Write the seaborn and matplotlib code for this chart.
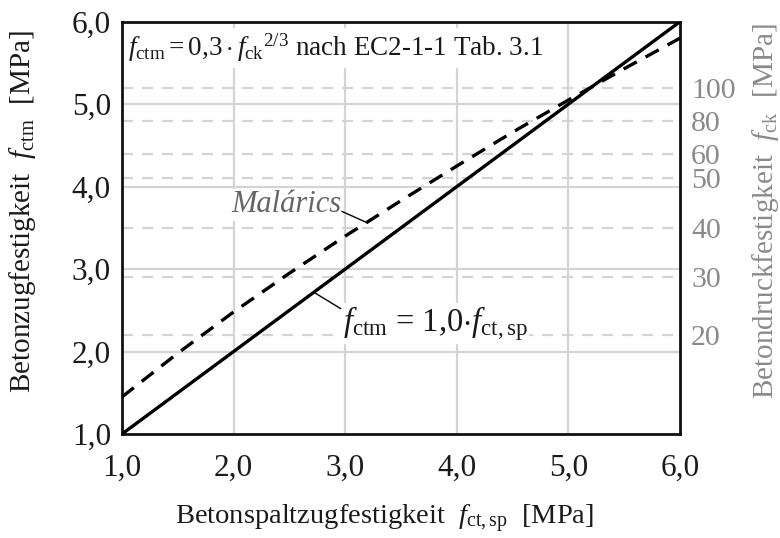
import matplotlib
matplotlib.use("Agg")
import matplotlib.pyplot as plt
import seaborn as sns
import pandas as pd

# ---- data ----
x_sp = [1.0, 6.0]
y_lin = [1.0, 6.0]                      # f_ctm = 1,0 * f_ct,sp
x_mal = [1.0, 1.5, 2.0, 2.5, 3.0, 3.5, 4.0, 4.5, 5.0, 5.5, 6.0]
y_mal = [1.45, 1.98, 2.48, 2.95, 3.40, 3.83, 4.25, 4.66, 5.05, 5.43, 5.80]  # Malárics
fck_labels = ["20", "30", "40", "50", "60", "80", "100"]
fck_fctm = [2.2, 2.9, 3.5, 4.1, 4.4, 4.8, 5.2]
ticks = [1, 2, 3, 4, 5, 6]
tick_labels = ["1,0", "2,0", "3,0", "4,0", "5,0", "6,0"]

sns.set_style("white")
plt.rcParams["font.family"] = ["Liberation Serif", "DejaVu Serif"]
plt.rcParams["mathtext.fontset"] = "custom"
plt.rcParams["mathtext.rm"] = "Liberation Serif"
plt.rcParams["mathtext.it"] = "Liberation Serif:italic"
plt.rcParams["mathtext.bf"] = "Liberation Serif:bold"

fig = plt.figure(figsize=(7.8, 5.38), dpi=100)
ax = fig.add_axes([122/780, 1-434/538, (680-122)/780, (434-21.7)/538])

grid_c = "#d4d4d4"
for v in [2, 3, 4, 5]:
    ax.axhline(v, color=grid_c, lw=1.6, zorder=0)
    ax.axvline(v, color=grid_c, lw=1.6, zorder=0)
for v in fck_fctm:
    ax.axhline(v, color=grid_c, lw=1.6, ls=(0, (5, 4)), zorder=0)

df_lin = pd.DataFrame({"x": x_sp, "y": y_lin})
df_mal = pd.DataFrame({"x": x_mal, "y": y_mal})
sns.lineplot(data=df_lin, x="x", y="y", ax=ax, color="black", lw=2.4, zorder=3)
sns.lineplot(data=df_mal, x="x", y="y", ax=ax, color="black", lw=2.4,
             linestyle=(0, (4.5, 3)), zorder=3)

ax.set_xlim(1, 6)
ax.set_ylim(1, 6)
ax.set_xticks(ticks)
ax.set_xticklabels(tick_labels)
ax.set_yticks(ticks)
ax.set_yticklabels(tick_labels)
ax.tick_params(axis="both", length=0, labelsize=22.5, colors="#1a1a1a", pad=8)
ax.tick_params(axis="x", pad=14)
for s in ax.spines.values():
    s.set_color("#111111")
    s.set_linewidth(2)
    s.set_visible(True)
ax.set_xlabel(r"Betonspaltzugfestigkeit  $\mathit{f}_{\mathrm{ct,sp}}$  [MPa]",
              fontsize=20.5, color="#1a1a1a")
ax.xaxis.set_label_coords(0.47, -0.165)
ax.set_ylabel(r"Betonzugfestigkeit  $\mathit{f}_{\mathrm{ctm}}$  [MPa]",
              fontsize=21, color="#1a1a1a")
ax.yaxis.set_label_coords(-0.15, 0.54)

ax2 = ax.twinx()
ax2.set_ylim(1, 6)
ax2.set_yticks(fck_fctm)
ax2.set_yticklabels(fck_labels)
ax2.tick_params(axis="y", length=0, labelsize=21.5, colors="#8a8a8a", pad=8)
for s in ax2.spines.values():
    s.set_visible(False)
ax2.set_ylabel(r"Betondruckfestigkeit  $\mathit{f}_{\mathrm{ck}}$  [MPa]",
               fontsize=21, color="#8a8a8a")
ax2.yaxis.set_label_coords(1.126, 0.54)

ax.text(1.05, 5.68,
        r"$\mathit{f}_{\mathrm{ctm}} = 0{,}3\cdot \mathit{f}_{\mathrm{ck}}{}^{2/3}$ nach EC2-1-1 Tab. 3.1",
        fontsize=19.5, va="center", ha="left", color="#1a1a1a", zorder=4,
        bbox=dict(facecolor="white", edgecolor="none", pad=3))

ax.text(2.97, 3.78, "Malárics", fontsize=22, style="italic", color="#666666",
        ha="right", va="center", zorder=4,
        bbox=dict(facecolor="white", edgecolor="none", pad=1))
ax.plot([2.97, 3.2], [3.70, 3.56], color="black", lw=1, zorder=4)

ax.text(2.98, 2.34, r"$\mathit{f}_{\mathrm{ctm}}$ = 1,0$\cdot\mathit{f}_{\mathrm{ct,sp}}$",
        fontsize=23.5, color="#1a1a1a", ha="left", va="center", zorder=4,
        bbox=dict(facecolor="white", edgecolor="none", pad=1))
ax.plot([2.73, 2.96], [2.71, 2.52], color="black", lw=1, zorder=4)

fig.savefig("out.png", dpi=100)
